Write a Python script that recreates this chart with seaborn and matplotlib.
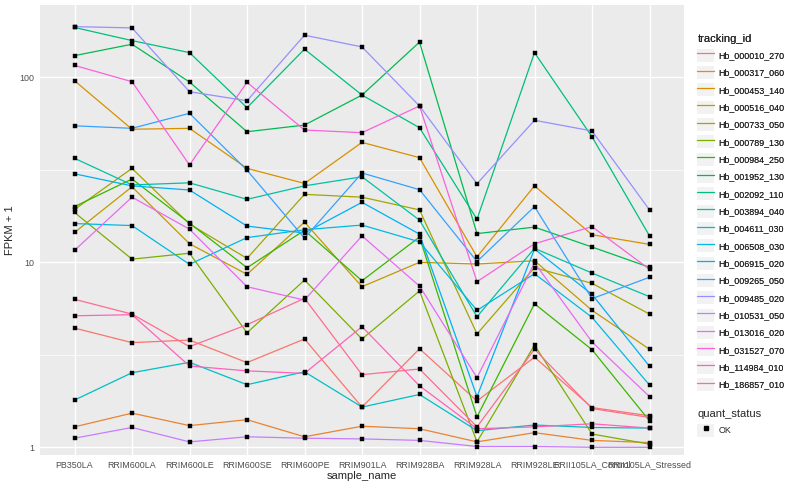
import numpy as np
import pandas as pd
import matplotlib
matplotlib.use("Agg")
import matplotlib.pyplot as plt
from matplotlib.lines import Line2D
from matplotlib.patches import Rectangle
from matplotlib.legend_handler import HandlerTuple
from matplotlib.ticker import FixedLocator, NullFormatter
import seaborn as sns

samples = ["PB350LA", "RRIM600LA", "RRIM600LE", "RRIM600SE", "RRIM600PE", "RRIM901LA",
           "RRIM928BA", "RRIM928LA", "RRIM928LE", "RRII105LA_Control", "RRII105LA_Stressed"]

# FPKM + 1 per gene, one value per sample
hb_000010_270 = [4.41, 3.68, 3.80, 2.87, 3.85, 1.65, 3.41, 1.78, 3.07, 1.64, 1.48]
hb_000317_060 = [1.29, 1.53, 1.31, 1.41, 1.14, 1.30, 1.26, 1.07, 1.20, 1.09, 1.06]
hb_000453_140 = [95.9, 52.4, 53.0, 32.2, 26.7, 44.5, 36.8, 10.7, 25.9, 14.1, 12.5]
hb_000516_040 = [14.5, 25.6, 12.6, 8.61, 16.5, 7.38, 10.0, 9.79, 10.2, 5.50, 3.39]
hb_000733_050 = [19.3, 32.2, 16.1, 10.5, 23.3, 22.5, 19.2, 4.10, 9.35, 7.70, 5.25]
hb_000789_130 = [18.6, 10.4, 11.2, 4.16, 8.02, 3.85, 7.00, 1.07, 3.57, 1.18, 1.04]
hb_000984_250 = [20.0, 28.2, 16.3, 9.35, 14.9, 7.95, 13.7, 1.46, 5.97, 3.37, 1.39]
hb_001952_130 = [131, 151, 94.3, 50.8, 55.2, 80.2, 155, 14.3, 15.5, 12.1, 9.40]
hb_002092_110 = [186, 158, 136, 68.5, 142, 80.2, 53.4, 17.1, 136, 47.7, 13.9]
hb_003894_040 = [36.5, 26.2, 26.9, 21.9, 25.9, 29.0, 16.9, 5.08, 11.9, 8.75, 6.52]
hb_004611_030 = [1.80, 2.53, 2.88, 2.18, 2.56, 1.65, 1.93, 1.23, 1.32, 1.28, 1.27]
hb_006508_030 = [16.2, 15.8, 9.75, 13.6, 15.0, 15.9, 12.9, 5.50, 8.68, 5.04, 2.17]
hb_006915_020 = [30.1, 25.9, 24.6, 15.7, 14.4, 21.1, 14.2, 1.88, 11.8, 6.71, 2.74]
hb_009265_050 = [54.7, 53.0, 63.9, 31.5, 13.5, 30.4, 24.7, 10.1, 20.0, 6.36, 8.30]
hb_009485_020 = [188, 185, 83.6, 74.7, 169, 146, 70.0, 26.6, 58.6, 51.3, 19.2]
hb_010531_050 = [1.12, 1.28, 1.07, 1.14, 1.12, 1.11, 1.09, 1.01, 1.01, 1.00, 1.00]
hb_013016_020 = [11.6, 22.5, 15.1, 7.38, 6.25, 13.9, 7.44, 2.38, 9.95, 3.71, 1.88]
hb_031527_070 = [116, 94.7, 33.6, 94.0, 51.9, 50.2, 70.0, 7.86, 12.6, 15.6, 9.17]
hb_114984_010 = [5.14, 5.21, 2.75, 2.59, 2.51, 4.49, 2.15, 1.26, 1.29, 1.34, 1.27]
hb_186857_010 = [6.31, 5.25, 3.50, 4.60, 6.39, 2.47, 2.65, 1.29, 3.39, 1.62, 1.45]

genes = {
    "Hb_000010_270": hb_000010_270, "Hb_000317_060": hb_000317_060,
    "Hb_000453_140": hb_000453_140, "Hb_000516_040": hb_000516_040,
    "Hb_000733_050": hb_000733_050, "Hb_000789_130": hb_000789_130,
    "Hb_000984_250": hb_000984_250, "Hb_001952_130": hb_001952_130,
    "Hb_002092_110": hb_002092_110, "Hb_003894_040": hb_003894_040,
    "Hb_004611_030": hb_004611_030, "Hb_006508_030": hb_006508_030,
    "Hb_006915_020": hb_006915_020, "Hb_009265_050": hb_009265_050,
    "Hb_009485_020": hb_009485_020, "Hb_010531_050": hb_010531_050,
    "Hb_013016_020": hb_013016_020, "Hb_031527_070": hb_031527_070,
    "Hb_114984_010": hb_114984_010, "Hb_186857_010": hb_186857_010,
}

# ggplot2 default hue palette for 20 levels
hue_colors = ["#F8766D", "#EA8331", "#D89000", "#C09B00", "#A3A500", "#7CAE00", "#39B600",
              "#00BB4E", "#00BF7D", "#00C1A3", "#00BFC4", "#00BAE0", "#00B0F6", "#35A2FF",
              "#9590FF", "#C77CFF", "#E76BF3", "#FA62DB", "#FF62BC", "#FF6C91"]

rows = []
for gid, vals in genes.items():
    for s, v in zip(samples, vals):
        rows.append({"tracking_id": gid, "sample_name": s, "fpkm": v, "quant_status": "OK"})
df = pd.DataFrame(rows)
df["xpos"] = df["sample_name"].map({s: i for i, s in enumerate(samples)})

sns.set_style("white")
plt.rcParams["font.family"] = ["Liberation Sans", "DejaVu Sans"]

fig = plt.figure(figsize=(8, 5), dpi=100)
ax = fig.add_axes([40 / 800, 45 / 500, 644 / 800, 450 / 500])
ax.set_facecolor("#EBEBEB")

ids = list(genes.keys())
palette = dict(zip(ids, hue_colors))
sns.lineplot(data=df, x="xpos", y="fpkm", hue="tracking_id", hue_order=ids,
             palette=palette, estimator=None, sort=False, linewidth=0.9,
             legend=False, ax=ax, zorder=2)
sns.scatterplot(data=df, x="xpos", y="fpkm", color="black", marker="s", s=8,
                edgecolor="black", linewidth=0.3, legend=False, ax=ax, zorder=3)

ax.set_yscale("log")
ax.set_ylim(10 ** -0.0416, 10 ** 2.391)
ax.set_xlim(-0.6, 10.6)
ax.yaxis.set_major_locator(FixedLocator([1, 10, 100]))
ax.set_yticklabels(["1", "10", "100"])
ax.yaxis.set_minor_locator(FixedLocator([10 ** 0.5, 10 ** 1.5]))
ax.yaxis.set_minor_formatter(NullFormatter())
ax.set_xticks(range(len(samples)))
ax.set_xticklabels(samples)

ax.grid(True, which="major", color="white", linewidth=1.0)
ax.grid(True, which="minor", axis="y", color="white", linewidth=0.5)
ax.set_axisbelow(True)
for sp in ax.spines.values():
    sp.set_visible(False)
ax.tick_params(axis="both", which="major", length=2, width=0.8, color="#333333",
               labelsize=6.4, labelcolor="#4D4D4D", pad=2)
ax.tick_params(axis="y", which="minor", length=0)

ax.set_xlabel("sample_name", fontsize=8, labelpad=1)
ax.set_ylabel("FPKM + 1", fontsize=8, labelpad=3)

# legends in ggplot style: grey key boxes
key_bg = "#F2F2F2"
handles = []
for gid in ids:
    box = Rectangle((0, 0), 1, 1, facecolor=key_bg, edgecolor="none")
    ln = Line2D([], [], color=palette[gid], linewidth=0.9)
    handles.append((box, ln))
leg1 = fig.legend(handles, ids, title="tracking_id", loc="upper left",
                  bbox_to_anchor=(693 / 800, 1 - 30 / 500), frameon=False,
                  fontsize=6.4, title_fontsize=8, handlelength=1.9, handleheight=1.9,
                  labelspacing=0.47, handletextpad=0.45, borderpad=0,
                  handler_map={tuple: HandlerTuple(ndivide=1, pad=0)})
leg1._legend_box.align = "left"
fig.add_artist(leg1)

ok_box = Rectangle((0, 0), 1, 1, facecolor=key_bg, edgecolor="none")
ok_pt = Line2D([], [], color="black", marker="s", markersize=2.6, linestyle="none")
leg2 = fig.legend([(ok_box, ok_pt)], ["OK"], title="quant_status", loc="upper left",
                  bbox_to_anchor=(693 / 800, 1 - 405 / 500), frameon=False,
                  fontsize=6.4, title_fontsize=8, handlelength=1.9, handleheight=1.9,
                  labelspacing=0.47, handletextpad=0.45, borderpad=0,
                  handler_map={tuple: HandlerTuple(ndivide=1, pad=0)})
leg2._legend_box.align = "left"

fig.savefig("out.png", dpi=100)
